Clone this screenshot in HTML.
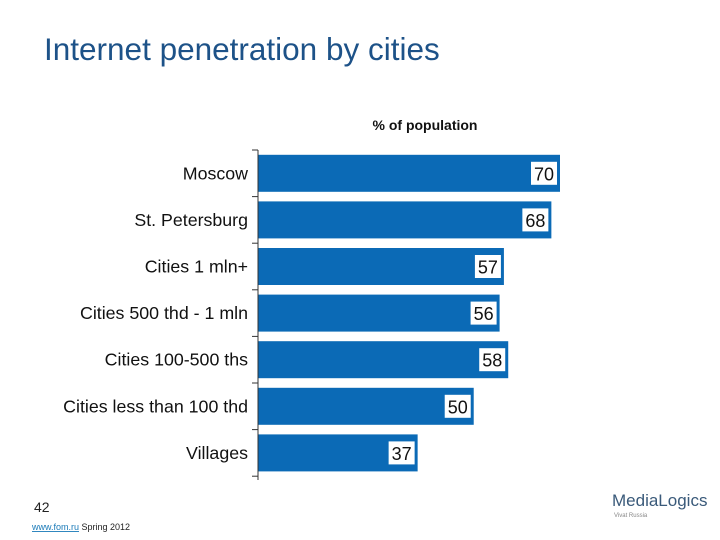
<!DOCTYPE html>
<html><head><meta charset="utf-8"><style>
body{margin:0;width:720px;height:540px;background:#fff;overflow:hidden;font-family:"Liberation Sans",Arial,sans-serif;}
svg{position:absolute;left:0;top:0}
</style></head><body>
<svg width="720" height="540">
<text x="44" y="60" font-size="31.5" fill="#1d5288">Internet penetration by cities</text>
<text x="425" y="130" font-size="14" font-weight="bold" text-anchor="middle" fill="#111">% of population</text>
<g id="bars"></g>
<line x1="258" y1="150" x2="258" y2="480" stroke="#333" stroke-width="1"/>
<text x="34" y="512" font-size="14" fill="#222">42</text>
<text x="32" y="530" font-size="9" fill="#222"><tspan fill="#1a7ab8" text-decoration="underline">www.fom.ru</tspan> Spring 2012</text>
<text x="612" y="506" font-size="17" fill="#3a5a7a">MediaLogics</text>
<text x="614" y="517" font-size="6" fill="#888">Vivat Russia</text>
</svg>
<script>
const categories=["Moscow","St. Petersburg","Cities 1 mln+","Cities 500 thd - 1 mln","Cities 100-500 ths","Cities less than 100 thd","Villages"];
const values=[70,68,57,56,58,50,37];
const x0=258, scale=302/70, top0=150, band=46.6, barH=37;
const xs=v=>x0+v*scale;
const g=document.getElementById('bars');
const NS="http://www.w3.org/2000/svg";
categories.forEach((c,i)=>{
  const y=top0+i*band+(band-barH)/2;
  const r=document.createElementNS(NS,'rect');
  r.setAttribute('x',x0);r.setAttribute('y',y);r.setAttribute('width',xs(values[i])-x0);r.setAttribute('height',barH);r.setAttribute('fill','#0b6ab6');
  
  
  g.appendChild(r);
  const tk=document.createElementNS(NS,'line');
  tk.setAttribute('x1',x0-6);tk.setAttribute('x2',x0);tk.setAttribute('y1',top0+i*band);tk.setAttribute('y2',top0+i*band);tk.setAttribute('stroke','#333');
  
  
  g.appendChild(tk);
  const lb=document.createElementNS(NS,'text');
  lb.setAttribute('x',248);lb.setAttribute('y',y+barH/2+6);lb.setAttribute('text-anchor','end');lb.setAttribute('font-size','17.8');lb.setAttribute('fill','#111');
  lb.textContent=c;
  
  
  g.appendChild(lb);
  const bx=document.createElementNS(NS,'rect');
  const xe=xs(values[i]);
  bx.setAttribute('x',xe-29);bx.setAttribute('y',y+7);bx.setAttribute('width',26);bx.setAttribute('height',barH-14);bx.setAttribute('fill','#fff');
  
  
  g.appendChild(bx);
  const vt=document.createElementNS(NS,'text');
  vt.setAttribute('x',xe-16);vt.setAttribute('y',y+barH/2+7);vt.setAttribute('text-anchor','middle');vt.setAttribute('font-size','18');vt.setAttribute('fill','#111');
  vt.textContent=values[i];
  
  
  g.appendChild(vt);
});
const tk=document.createElementNS(NS,'line');
tk.setAttribute('x1',x0-6);tk.setAttribute('x2',x0);tk.setAttribute('y1',top0+7*band);tk.setAttribute('y2',top0+7*band);tk.setAttribute('stroke','#333');


g.appendChild(tk);
</script>
</body></html>
